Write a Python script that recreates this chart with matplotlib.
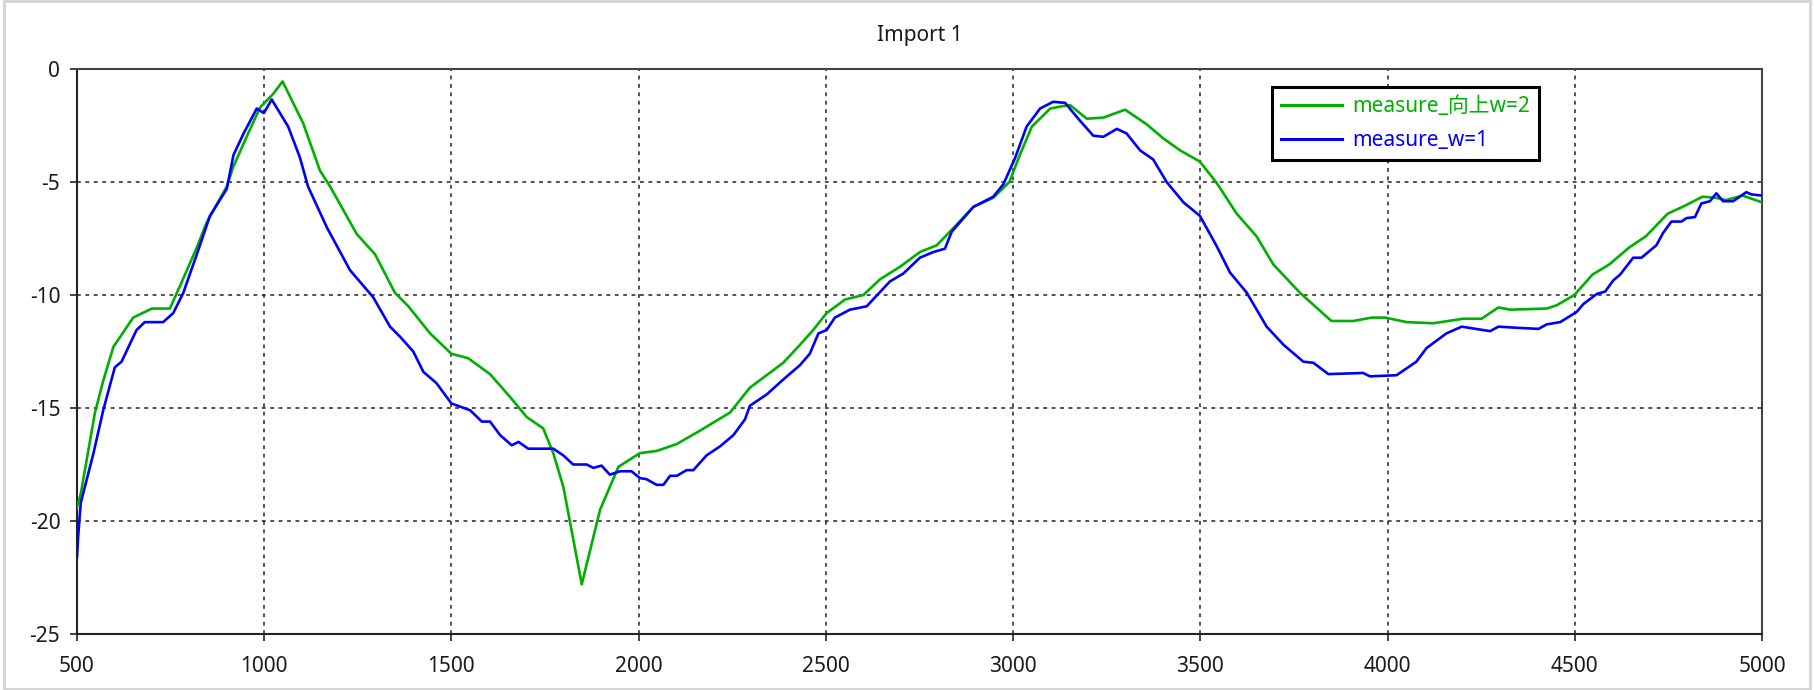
import matplotlib
matplotlib.use("Agg")
import matplotlib.pyplot as plt
from matplotlib.patches import Rectangle

plt.rcParams['font.family'] = ['Noto Sans', 'Noto Sans CJK SC', 'DejaVu Sans']

# ---- data ----
x_green = [500, 510, 548, 570, 597, 650, 700, 748, 775, 820, 846, 900, 918, 953, 989,
           1024, 1049, 1104, 1149, 1176, 1247, 1296, 1349, 1385, 1443, 1500, 1545,
           1603, 1656, 1701, 1745, 1772, 1799, 1848, 1897, 1946, 2003, 2048, 2101,
           2164, 2244, 2297, 2386, 2431, 2466, 2502, 2551, 2600, 2645, 2698, 2751,
           2796, 2831, 2894, 2947, 2990, 3018, 3050, 3099, 3130, 3152, 3197, 3241,
           3299, 3357, 3401, 3446, 3499, 3544, 3597, 3650, 3695, 3766, 3850, 3908,
           3958, 3994, 4051, 4122, 4202, 4251, 4296, 4327, 4425, 4452, 4499, 4547,
           4592, 4645, 4690, 4748, 4788, 4841, 4877, 4904, 4948, 5000]
y_green = [-19.4, -18.8, -15.2, -13.8, -12.3, -11.0, -10.6, -10.6, -9.6, -7.9, -6.8,
           -5.2, -4.3, -3.0, -1.7, -1.1, -0.55, -2.4, -4.5, -5.2, -7.3, -8.2, -9.9,
           -10.5, -11.7, -12.6, -12.8, -13.5, -14.5, -15.4, -15.9, -17.0, -18.5,
           -22.8, -19.5, -17.6, -17.0, -16.9, -16.6, -16.0, -15.2, -14.1, -13.0,
           -12.2, -11.55, -10.8, -10.2, -10.0, -9.3, -8.75, -8.1, -7.8, -7.2, -6.1,
           -5.7, -5.0, -3.8, -2.55, -1.75, -1.65, -1.6, -2.2, -2.15, -1.8, -2.45,
           -3.07, -3.6, -4.1, -5.05, -6.4, -7.4, -8.65, -9.9, -11.15, -11.15, -11.0,
           -11.0, -11.2, -11.25, -11.05, -11.05, -10.55, -10.65, -10.6, -10.45,
           -10.0, -9.1, -8.65, -7.9, -7.4, -6.4, -6.1, -5.65, -5.7, -5.8, -5.6, -5.9]

x_blue = [500, 503, 510, 544, 570, 601, 619, 659, 681, 730, 757, 784, 820, 855, 900,
          918, 945, 980, 999, 1020, 1064, 1095, 1117, 1167, 1229, 1291, 1336, 1363,
          1398, 1425, 1460, 1500, 1550, 1581, 1603, 1630, 1661, 1679, 1705, 1772,
          1799, 1825, 1861, 1879, 1901, 1923, 1950, 1981, 2003, 2021, 2048, 2066,
          2084, 2102, 2128, 2146, 2181, 2217, 2253, 2284, 2297, 2342, 2382, 2431,
          2457, 2480, 2502, 2524, 2564, 2609, 2671, 2707, 2751, 2787, 2818, 2836,
          2894, 2947, 2974, 3005, 3036, 3072, 3107, 3139, 3174, 3214, 3241, 3277,
          3303, 3339, 3374, 3410, 3455, 3499, 3544, 3579, 3624, 3677, 3722, 3775,
          3802, 3842, 3935, 3953, 4024, 4077, 4104, 4157, 4198, 4256, 4274, 4296,
          4345, 4403, 4425, 4461, 4505, 4523, 4559, 4581, 4603, 4621, 4656, 4678,
          4718, 4736, 4758, 4785, 4798, 4821, 4838, 4861, 4878, 4896, 4923, 4958,
          4972, 5000]
y_blue = [-21.6, -20.7, -19.2, -17.0, -15.1, -13.2, -12.95, -11.55, -11.2, -11.2,
          -10.8, -9.9, -8.2, -6.5, -5.3, -3.8, -2.85, -1.75, -1.95, -1.35, -2.55,
          -3.9, -5.2, -7.0, -8.9, -10.1, -11.4, -11.85, -12.5, -13.4, -13.9, -14.8,
          -15.1, -15.6, -15.6, -16.2, -16.65, -16.5, -16.8, -16.8, -17.1, -17.5,
          -17.5, -17.65, -17.55, -17.95, -17.8, -17.8, -18.1, -18.15, -18.4, -18.4,
          -18.0, -18.0, -17.75, -17.75, -17.1, -16.7, -16.2, -15.5, -14.9, -14.4,
          -13.8, -13.1, -12.6, -11.7, -11.55, -11.0, -10.65, -10.5, -9.4, -9.05,
          -8.35, -8.1, -7.95, -7.2, -6.1, -5.65, -5.1, -3.95, -2.55, -1.75, -1.45,
          -1.5, -2.2, -2.95, -3.0, -2.65, -2.85, -3.6, -4.0, -5.0, -5.9, -6.5,
          -7.85, -9.0, -9.9, -11.4, -12.2, -12.95, -13.0, -13.5, -13.45, -13.6,
          -13.55, -12.95, -12.35, -11.7, -11.4, -11.55, -11.6, -11.4, -11.45,
          -11.5, -11.3, -11.2, -10.75, -10.4, -9.95, -9.85, -9.35, -9.1, -8.35,
          -8.35, -7.8, -7.25, -6.75, -6.75, -6.6, -6.55, -5.95, -5.85, -5.5,
          -5.85, -5.85, -5.45, -5.55, -5.6]

labels = ['measure_向上w=2', 'measure_w=1']
x_ticks = [500, 1000, 1500, 2000, 2500, 3000, 3500, 4000, 4500, 5000]
y_ticks = [0, -5, -10, -15, -20, -25]
title = 'Import 1'

# ---- figure ----
W, H = 1814, 690
fig = plt.figure(figsize=(W / 100, H / 100), dpi=100)
ax = fig.add_axes([77 / W, 56 / H, (1762 - 77) / W, (634 - 69) / H])

green = '#00B000'
blue = '#0000FF'
ax.plot(x_green, y_green, color=green, lw=1.9, label=labels[0], zorder=3)
ax.plot(x_blue, y_blue, color=blue, lw=1.9, label=labels[1], zorder=3)

ax.set_xlim(500, 5000)
ax.set_ylim(-25, 0)
ax.set_xticks(x_ticks)
ax.set_yticks(y_ticks)
ax.set_xticklabels([str(v) for v in x_ticks])
ax.set_yticklabels([str(v) for v in y_ticks])

ax.grid(True, color='#222222', linestyle=(0, (2.5, 3)), linewidth=1.1)
ax.set_axisbelow(True)

ax.tick_params(axis='both', direction='out', length=5, width=1.2,
               colors='#222222', labelsize=15, labelcolor='#1a1a1a')
ax.tick_params(axis='x', pad=11)
ax.tick_params(axis='y', pad=7)

for side in ['left', 'bottom']:
    ax.spines[side].set_color('#222222')
    ax.spines[side].set_linewidth(1.5)
for side in ['top', 'right']:
    ax.spines[side].set_color('#444444')
    ax.spines[side].set_linewidth(1.5)

fig.text((77 + 1762) / 2 / W, 1 - 35 / H, title, ha='center', va='center',
         fontsize=15, color='#1a1a1a')

leg = ax.legend(loc='upper left', bbox_to_anchor=(1272 / W, 1 - 87 / H),
                bbox_transform=fig.transFigure, borderaxespad=0,
                fancybox=False, shadow=False, framealpha=1, edgecolor='black',
                fontsize=15, handlelength=2.9, handletextpad=0.5,
                labelspacing=0.6, borderpad=0.45)
leg.get_frame().set_linewidth(2.2)
for line in leg.get_lines():
    line.set_linewidth(2.2)
for txt, c in zip(leg.get_texts(), [green, blue]):
    txt.set_color(c)
    txt.set_fontfamily(['Noto Sans', 'Noto Sans CJK SC', 'DejaVu Sans'])

fig.patches.append(Rectangle((0.002, 0.002), 0.996, 0.996, transform=fig.transFigure,
                             fill=False, edgecolor='#d4d4d4', lw=2))

fig.savefig('out.png', dpi=100)
